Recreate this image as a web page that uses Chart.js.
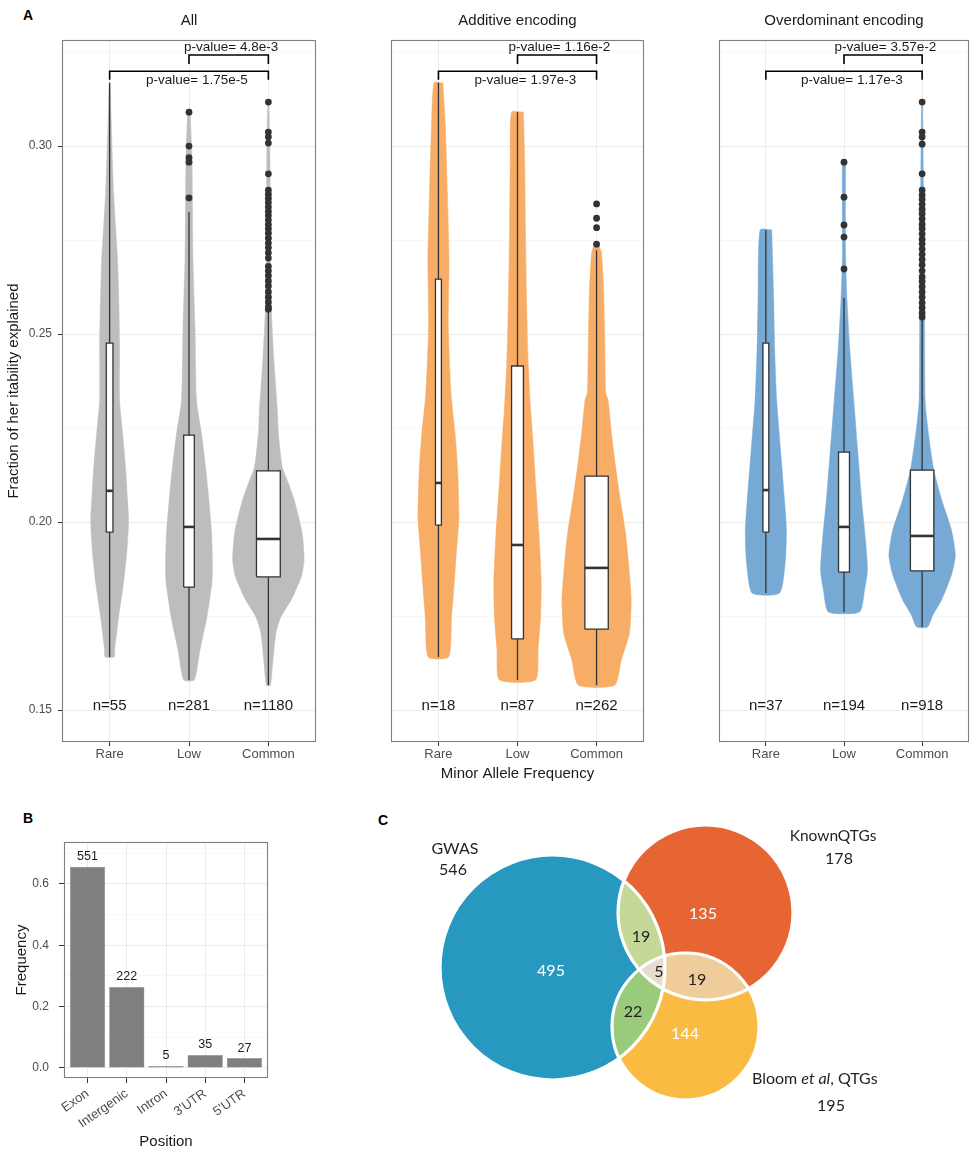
<!DOCTYPE html>
<html><head><meta charset="utf-8">
<script src="https://cdn.jsdelivr.net/npm/chart.js@4.4.1/dist/chart.umd.min.js"></script>
<style>
html,body{margin:0;padding:0;background:#fff;width:973px;height:1153px;overflow:hidden;position:relative;}
canvas{position:absolute;}
.lbl{position:absolute;font-family:'Liberation Sans',Arial,sans-serif;font-weight:bold;font-size:14px;line-height:14px;color:#000;}
</style></head><body>
<div class="lbl" style="left:23px;top:8px">A</div>
<div class="lbl" style="left:23px;top:811px">B</div>
<div class="lbl" style="left:378px;top:813px">C</div>
<canvas id="a1" width="320" height="800" style="left:0;top:0"></canvas>
<canvas id="a2" width="318" height="800" style="left:330px;top:0"></canvas>
<canvas id="a3" width="323" height="800" style="left:650px;top:0"></canvas>
<canvas id="b" width="290" height="343" style="left:0;top:810px"></canvas>
<canvas id="c" width="593" height="353" style="left:380px;top:800px"></canvas>
<script>
// ---------------- DATA ----------------
const CATS = ['Rare', 'Low', 'Common'];
const PANEL_TITLES = ['All', 'Additive encoding', 'Overdominant encoding'];
const Y_TICKS = [0.15, 0.175, 0.2, 0.225, 0.25, 0.275, 0.3, 0.325];
const Y_MAJOR = [0.15, 0.2, 0.25, 0.3];
const N_LABELS = [['n=55', 'n=281', 'n=1180'], ['n=18', 'n=87', 'n=262'], ['n=37', 'n=194', 'n=918']];
const P_UPPER = ['p-value= 4.8e-3', 'p-value= 1.16e-2', 'p-value= 3.57e-2']; // Low vs Common
const P_LOWER = ['p-value= 1.75e-5', 'p-value= 1.97e-3', 'p-value= 1.17e-3']; // Rare vs Common
const BRACKET_UPPER = [2, 3, 0.3242, 0.3218]; // from, to, y, tip
const BRACKET_LOWER = [1, 3, 0.3199, 0.3176];

// Violin profiles: y values and half-widths (in category units)
const ALL_RARE_Y = [0.3168, 0.3069, 0.2989, 0.2875, 0.2785, 0.2697, 0.2609, 0.2476, 0.2324, 0.2237, 0.2146, 0.2059, 0.2005, 0.1926, 0.1838, 0.1747, 0.1660, 0.1641];
const ALL_RARE_W = [0.006, 0.019, 0.031, 0.05, 0.075, 0.1, 0.113, 0.125, 0.125, 0.163, 0.2, 0.225, 0.238, 0.219, 0.175, 0.113, 0.063, 0.056];
const ALL_LOW_Y = [0.3096, 0.2963, 0.2830, 0.2697, 0.2519, 0.2324, 0.2237, 0.2146, 0.2059, 0.1971, 0.1880, 0.1838, 0.1747, 0.1660, 0.1580];
const ALL_LOW_W = [0.013, 0.038, 0.044, 0.05, 0.075, 0.094, 0.156, 0.209, 0.25, 0.284, 0.296, 0.288, 0.225, 0.138, 0.066];
const ALL_COMMON_Y = [0.3117, 0.2989, 0.2723, 0.2564, 0.2431, 0.2298, 0.2237, 0.2146, 0.2104, 0.2059, 0.1971, 0.1899, 0.1854, 0.1793, 0.1747, 0.1705, 0.1614, 0.1566];
const ALL_COMMON_W = [0.006, 0.019, 0.025, 0.038, 0.069, 0.113, 0.125, 0.175, 0.25, 0.325, 0.425, 0.45, 0.413, 0.288, 0.156, 0.094, 0.05, 0.025];

const ADD_RARE_Y = [0.3168, 0.3051, 0.2875, 0.2697, 0.2519, 0.2343, 0.2237, 0.2146, 0.2013, 0.1926, 0.1838, 0.1747, 0.1641];
const ADD_RARE_W = [0.056, 0.088, 0.113, 0.134, 0.125, 0.159, 0.209, 0.241, 0.259, 0.229, 0.2, 0.166, 0.129];
const ADD_LOW_Y = [0.3090, 0.2963, 0.2785, 0.2609, 0.2431, 0.2298, 0.2237, 0.2104, 0.1971, 0.1838, 0.1747, 0.1660, 0.1580];
const ADD_LOW_W = [0.075, 0.091, 0.1, 0.113, 0.134, 0.166, 0.188, 0.229, 0.271, 0.3, 0.291, 0.26, 0.229];
const ADD_COMMON_Y = [0.2739, 0.2715, 0.2609, 0.2476, 0.2343, 0.2324, 0.2237, 0.2146, 0.2059, 0.1971, 0.1880, 0.1793, 0.1705, 0.1633, 0.1566];
const ADD_COMMON_W = [0.025, 0.063, 0.091, 0.104, 0.116, 0.146, 0.188, 0.241, 0.3, 0.366, 0.409, 0.438, 0.416, 0.313, 0.229];

const OVD_RARE_Y = [0.2777, 0.2590, 0.2457, 0.2324, 0.2191, 0.2059, 0.1979, 0.1899, 0.1811];
const OVD_RARE_W = [0.075, 0.1, 0.113, 0.138, 0.188, 0.238, 0.263, 0.25, 0.175];
const OVD_LOW_Y = [0.2955, 0.2723, 0.2590, 0.2457, 0.2324, 0.2191, 0.2059, 0.1952, 0.1872, 0.1819, 0.1761];
const OVD_LOW_W = [0.019, 0.019, 0.038, 0.075, 0.125, 0.175, 0.225, 0.275, 0.3, 0.263, 0.2];
const OVD_COMMON_Y = [0.3117, 0.2856, 0.2537, 0.2324, 0.2245, 0.2138, 0.2059, 0.1979, 0.1912, 0.1859, 0.1793, 0.1753, 0.1721];
const OVD_COMMON_W = [0.006, 0.019, 0.031, 0.038, 0.075, 0.15, 0.25, 0.375, 0.425, 0.375, 0.25, 0.138, 0.069];

// Box stats: [lower whisker, Q1, median, Q3, upper whisker]
const ALL_BOX = [[0.1641, 0.1973, 0.2083, 0.2476, 0.3168], [0.1580, 0.1827, 0.1987, 0.2231, 0.2824], [0.1566, 0.1854, 0.1955, 0.2136, 0.2564]];
const ADD_BOX = [[0.1641, 0.1992, 0.2104, 0.2646, 0.3168], [0.1580, 0.1689, 0.1939, 0.2415, 0.3090], [0.1566, 0.1715, 0.1878, 0.2122, 0.2723]];
const OVD_BOX = [[0.1811, 0.1973, 0.2085, 0.2476, 0.2777], [0.1761, 0.1867, 0.1987, 0.2186, 0.2596], [0.1721, 0.1870, 0.1963, 0.2138, 0.2537]];
const ALL_BOXW = [0.084, 0.134, 0.3];
const ADD_BOXW = [0.075, 0.15, 0.296];
const OVD_BOXW = [0.075, 0.14, 0.3];

// Outliers
const ALL_OUT = [[], [0.3090, 0.3000, 0.2969, 0.2957, 0.2862],
  [0.3117, 0.3037, 0.3024, 0.3008, 0.2926, 0.2883, 0.2872, 0.2861, 0.2850, 0.2838, 0.2826, 0.2815, 0.2803, 0.2791, 0.2780, 0.2768, 0.2755, 0.2742, 0.2730, 0.2716, 0.2702, 0.2680, 0.2668, 0.2655, 0.2641, 0.2628, 0.2612, 0.2598, 0.2585, 0.2572, 0.2566]];
const ADD_OUT = [[], [], [0.2846, 0.2808, 0.2783, 0.2739]];
const OVD_OUT = [[], [0.2957, 0.2864, 0.2790, 0.2758, 0.2673],
  [0.3117, 0.3037, 0.3024, 0.3005, 0.2926, 0.2883, 0.2870, 0.2858, 0.2845, 0.2832, 0.2820, 0.2806, 0.2792, 0.2780, 0.2766, 0.2752, 0.2740, 0.2726, 0.2712, 0.2698, 0.2684, 0.2668, 0.2652, 0.2640, 0.2626, 0.2612, 0.2598, 0.2583, 0.2570, 0.2556, 0.2545]];

// Panel B
const POS_CATS = ['Exon', 'Intergenic', 'Intron', "3'UTR", "5'UTR"];
const POS_COUNTS = [551, 222, 5, 35, 27];
const POS_FREQ = [0.656, 0.264, 0.006, 0.042, 0.032];
const B_TICKS = [0, 0.1, 0.2, 0.3, 0.4, 0.5, 0.6, 0.7];
const B_MAJOR = [0, 0.2, 0.4, 0.6];

// Panel C (Venn)
const VENN_SETS = ['GWAS', 'KnownQTGs', 'Bloom et al, QTGs'];
const VENN_TOTALS = [546, 178, 195];
const VENN_CX = [17.25, 32.55, 30.55];
const VENN_CY = [16.75, 11.25, 22.65];
const VENN_R = [11.25, 8.75, 7.35];
const VENN_REGION_COUNTS = [495, 135, 144, 19, 22, 19, 5]; // G, K, B, G&K, G&B, K&B, all
const VENN_REGION_X = [17.1, 32.3, 30.5, 26.1, 25.3, 31.7, 27.9];
const VENN_REGION_Y = [17.1, 11.4, 23.4, 13.7, 21.2, 18.0, 17.2];
const VENN_LABEL_X = [7.5, 45.3, 37.2];
const VENN_LABEL_Y = [4.9, 3.6, 27.9];
const VENN_TOTAL_X = [7.3, 45.9, 45.1];
const VENN_TOTAL_Y = [7.0, 5.9, 30.6];

// ---------------- STYLE ----------------
const FONT = "'Liberation Sans', Arial, Helvetica, sans-serif";
const VFONT = "Lato, 'Open Sans', sans-serif";
const COLORS = ['#bdbdbd', '#f7ad66', '#76a9d3'];
const DARK = '#333333';
const isIn = (arr, v) => arr.some(m => Math.abs(m - v) < 1e-9);

function makeAnnot(id, texts, border) {
  return {
    id: id,
    afterDatasetsDraw(chart) {
      const {ctx, chartArea} = chart;
      const xs = chart.scales.x, ys = chart.scales.y;
      ctx.save();
      texts.forEach(t => {
        ctx.font = t.font;
        ctx.fillStyle = t.color || '#1a1a1a';
        ctx.textAlign = t.align || 'center';
        ctx.textBaseline = 'middle';
        const Y = (t.top !== undefined) ? chartArea.top + t.top : ys.getPixelForValue(t.y) + (t.dy || 0);
        ctx.fillText(t.text, xs.getPixelForValue(t.x) + (t.dx || 0), Y);
      });
      if (border) {
        ctx.strokeStyle = '#7f7f7f';
        ctx.lineWidth = 1.1;
        ctx.strokeRect(chartArea.left + 0.5, chartArea.top + 0.5, chartArea.right - chartArea.left - 1, chartArea.bottom - chartArea.top - 1);
      }
      ctx.restore();
    }
  };
}

function polygon(c, ys, ws) {
  const right = ys.map((y, i) => ({x: c + ws[i], y: y}));
  const left = ys.map((y, i) => ({x: c - ws[i], y: y})).reverse();
  const pts = right.concat(left);
  pts.push(pts[0]);
  return pts;
}

function panelA(canvasId, idx, violins, boxes, boxw, outliers, opt) {
  const color = COLORS[idx];
  const datasets = [];
  violins.forEach((v, i) => datasets.push({
    data: polygon(i + 1, v[0], v[1]), showLine: true, fill: 'shape', backgroundColor: color,
    borderColor: color, borderWidth: 0.5, pointRadius: 0, tension: 0.2, order: 10
  }));
  boxes.forEach((b, i) => {
    const c = i + 1, w = boxw[i] / 2;
    datasets.push({data: [{x: c, y: b[0]}, {x: c, y: b[4]}], showLine: true, borderColor: DARK, borderWidth: 1.3, pointRadius: 0, order: 8});
    datasets.push({data: [{x: c - w, y: b[1]}, {x: c + w, y: b[1]}, {x: c + w, y: b[3]}, {x: c - w, y: b[3]}, {x: c - w, y: b[1]}],
      showLine: true, fill: 'shape', backgroundColor: '#ffffff', borderColor: DARK, borderWidth: 1.3, pointRadius: 0, order: 6});
    datasets.push({data: [{x: c - w, y: b[2]}, {x: c + w, y: b[2]}], showLine: true, borderColor: DARK, borderWidth: 2.6, pointRadius: 0, order: 4});
  });
  outliers.forEach((o, i) => {
    if (o.length) datasets.push({data: o.map(y => ({x: i + 1, y: y})), showLine: false, pointRadius: 3.4,
      backgroundColor: DARK, borderWidth: 0, order: 2});
  });
  [BRACKET_UPPER, BRACKET_LOWER].forEach(br => datasets.push({
    data: [{x: br[0], y: br[3]}, {x: br[0], y: br[2]}, {x: br[1], y: br[2]}, {x: br[1], y: br[3]}],
    showLine: true, borderColor: '#000', borderWidth: 1.6, pointRadius: 0, order: 0
  }));

  const texts = [];
  texts.push({text: PANEL_TITLES[idx], x: 2, top: -19, font: '15px ' + FONT, color: '#1a1a1a'});
  N_LABELS[idx].forEach((t, i) => texts.push({text: t, x: i + 1, y: 0.1512, font: '15px ' + FONT, color: '#1a1a1a'}));
  texts.push({text: P_UPPER[idx], x: 2.53, y: 0.3263, font: '13.5px ' + FONT, color: '#1a1a1a'});
  texts.push({text: P_LOWER[idx], x: 2.1, y: 0.3176, font: '13.5px ' + FONT, color: '#1a1a1a'});

  new Chart(document.getElementById(canvasId), {
    type: 'scatter',
    data: {datasets: datasets},
    options: {
      responsive: false, animation: false, events: [],
      layout: {padding: {left: 0, right: opt.padRight, top: 40, bottom: 13}},
      plugins: {legend: {display: false}, tooltip: {enabled: false}, title: {display: false}},
      scales: {
        x: {
          type: 'linear', min: 0.4, max: 3.6,
          afterBuildTicks: s => { s.ticks = CATS.map((c, i) => ({value: i + 1})); },
          afterFit: s => { s.height = 45; },
          ticks: {callback: v => CATS[Math.round(v) - 1], color: '#4d4d4d', font: {family: FONT, size: 13}, padding: 1, maxRotation: 0, autoSkip: false},
          grid: {color: '#ebebeb', lineWidth: 1, tickLength: 4, tickColor: DARK, tickWidth: 1},
          border: {display: false},
          title: {display: opt.xTitle, text: 'Minor Allele Frequency', color: '#1a1a1a', font: {family: FONT, size: 15}, padding: {top: 0, bottom: 4}}
        },
        y: {
          type: 'linear', min: 0.1415, max: 0.3282,
          afterBuildTicks: s => { s.ticks = Y_TICKS.map(v => ({value: v})); },
          afterFit: s => { s.width = opt.yWidth; },
          ticks: {display: opt.yLabels, callback: v => isIn(Y_MAJOR, v) ? v.toFixed(2) : '', color: '#4d4d4d', font: {family: FONT, size: 12}, padding: 6, autoSkip: false},
          grid: {
            color: c => isIn(Y_MAJOR, c.tick.value) ? '#ebebeb' : '#f3f3f3',
            lineWidth: c => isIn(Y_MAJOR, c.tick.value) ? 1 : 0.7,
            drawTicks: opt.yLabels, tickLength: 4, tickWidth: 1,
            tickColor: c => isIn(Y_MAJOR, c.tick.value) ? DARK : 'rgba(0,0,0,0)'
          },
          border: {display: false},
          title: {display: opt.yLabels, text: 'Fraction of her itability explained', color: '#1a1a1a', font: {family: FONT, size: 15}, padding: {top: 5, bottom: 0}}
        }
      }
    },
    plugins: [makeAnnot('annot' + idx, texts, true)]
  });
}

panelA('a1', 0,
  [[ALL_RARE_Y, ALL_RARE_W], [ALL_LOW_Y, ALL_LOW_W], [ALL_COMMON_Y, ALL_COMMON_W]],
  ALL_BOX, ALL_BOXW, ALL_OUT, {padRight: 3, yWidth: 62, yLabels: true, xTitle: false});
panelA('a2', 1,
  [[ADD_RARE_Y, ADD_RARE_W], [ADD_LOW_Y, ADD_LOW_W], [ADD_COMMON_Y, ADD_COMMON_W]],
  ADD_BOX, ADD_BOXW, ADD_OUT, {padRight: 3, yWidth: 61, yLabels: false, xTitle: true});
panelA('a3', 2,
  [[OVD_RARE_Y, OVD_RARE_W], [OVD_LOW_Y, OVD_LOW_W], [OVD_COMMON_Y, OVD_COMMON_W]],
  OVD_BOX, OVD_BOXW, OVD_OUT, {padRight: 1, yWidth: 69, yLabels: false, xTitle: false});

// ---------------- PANEL B ----------------
const bTexts = POS_COUNTS.map((n, i) => ({text: String(n), x: i + 1, y: POS_FREQ[i], dy: -10, font: '12.5px ' + FONT, color: '#1a1a1a'}));
new Chart(document.getElementById('b'), {
  type: 'bar',
  data: {datasets: [{data: POS_FREQ.map((f, i) => ({x: i + 1, y: f})), backgroundColor: '#7f7f7f', borderColor: '#8c8c8c', borderWidth: 0.5, barPercentage: 0.9, categoryPercentage: 1}]},
  options: {
    responsive: false, animation: false, events: [],
    layout: {padding: {left: 0, right: 22, top: 32, bottom: 2}},
    plugins: {legend: {display: false}, tooltip: {enabled: false}},
    scales: {
      x: {
        type: 'linear', min: 0.4, max: 5.6, offset: false,
        afterBuildTicks: s => { s.ticks = POS_CATS.map((c, i) => ({value: i + 1})); },
        afterFit: s => { s.height = 73; },
        ticks: {callback: v => POS_CATS[Math.round(v) - 1], color: '#4d4d4d', font: {family: FONT, size: 13}, padding: 3, minRotation: 35, maxRotation: 35, autoSkip: false},
        grid: {offset: false, color: '#ebebeb', lineWidth: 1, tickLength: 5, tickColor: DARK, tickWidth: 1},
        border: {display: false},
        title: {display: true, text: 'Position', color: '#1a1a1a', font: {family: FONT, size: 15}, padding: {top: 0, bottom: 0}}
      },
      y: {
        type: 'linear', min: -0.033, max: 0.737,
        afterBuildTicks: s => { s.ticks = B_TICKS.map(v => ({value: v})); },
        afterFit: s => { s.width = 64; },
        ticks: {callback: v => isIn(B_MAJOR, v) ? v.toFixed(1) : '', color: '#4d4d4d', font: {family: FONT, size: 12}, padding: 10, autoSkip: false},
        grid: {
          color: c => isIn(B_MAJOR, c.tick.value) ? '#ebebeb' : '#f3f3f3',
          lineWidth: c => isIn(B_MAJOR, c.tick.value) ? 1 : 0.7,
          tickLength: 5, tickWidth: 1,
          tickColor: c => isIn(B_MAJOR, c.tick.value) ? DARK : 'rgba(0,0,0,0)'
        },
        border: {display: false},
        title: {display: true, text: 'Frequency', color: '#1a1a1a', font: {family: FONT, size: 15}, padding: {top: 13, bottom: 0}}
      }
    }
  },
  plugins: [makeAnnot('annotB', bTexts, true)]
});

// ---------------- PANEL C (Venn) ----------------
const vennPlugin = {
  id: 'venn',
  afterDatasetsDraw(chart) {
    const {ctx} = chart;
    const xs = chart.scales.x, ys = chart.scales.y;
    const P = i => ({x: xs.getPixelForValue(VENN_CX[i]), y: ys.getPixelForValue(VENN_CY[i]), r: Math.abs(xs.getPixelForValue(VENN_R[i]) - xs.getPixelForValue(0))});
    const circ = i => { const p = P(i); ctx.beginPath(); ctx.arc(p.x, p.y, p.r, 0, Math.PI * 2); };
    const setColors = ['#2799c0', '#e66532', '#f9bb41'];
    ctx.save();
    [0, 1, 2].forEach(i => { circ(i); ctx.fillStyle = setColors[i]; ctx.fill(); });
    const pairs = [[0, 1, '#c4d898'], [0, 2, '#9acb7a'], [1, 2, '#f0cc9b']];
    pairs.forEach(p => { ctx.save(); circ(p[0]); ctx.clip(); circ(p[1]); ctx.fillStyle = p[2]; ctx.fill(); ctx.restore(); });
    ctx.save(); circ(0); ctx.clip(); circ(1); ctx.clip(); circ(2); ctx.fillStyle = '#e7dccd'; ctx.fill(); ctx.restore();
    [0, 1, 2].forEach(i => { circ(i); ctx.strokeStyle = '#ffffff'; ctx.lineWidth = 3.2; ctx.stroke(); });
    ctx.textAlign = 'center'; ctx.textBaseline = 'middle';
    ctx.font = '16px ' + VFONT;
    VENN_REGION_COUNTS.forEach((n, i) => {
      ctx.fillStyle = i < 3 ? '#ffffff' : '#231f20';
      ctx.fillText(String(n), xs.getPixelForValue(VENN_REGION_X[i]), ys.getPixelForValue(VENN_REGION_Y[i]));
    });
    ctx.fillStyle = '#231f20';
    ctx.font = '16px ' + VFONT;
    ctx.fillText(VENN_SETS[0], xs.getPixelForValue(VENN_LABEL_X[0]), ys.getPixelForValue(VENN_LABEL_Y[0]));
    ctx.font = '15.5px ' + VFONT;
    ctx.fillText(VENN_SETS[1], xs.getPixelForValue(VENN_LABEL_X[1]), ys.getPixelForValue(VENN_LABEL_Y[1]));
    let bx = xs.getPixelForValue(VENN_LABEL_X[2]);
    const by = ys.getPixelForValue(VENN_LABEL_Y[2]);
    ctx.textAlign = 'left';
    const parts = [['Bloom ', 'normal'], ['et al', 'italic'], [', QTGs', 'normal']];
    parts.forEach(pt => {
      ctx.font = pt[1] + ' 16px ' + VFONT;
      ctx.fillText(pt[0], bx, by);
      bx += ctx.measureText(pt[0]).width;
    });
    ctx.textAlign = 'center';
    ctx.font = '16px ' + VFONT;
    VENN_TOTALS.forEach((n, i) => ctx.fillText(String(n), xs.getPixelForValue(VENN_TOTAL_X[i]), ys.getPixelForValue(VENN_TOTAL_Y[i])));
    ctx.restore();
  }
};
new Chart(document.getElementById('c'), {
  type: 'scatter',
  data: {datasets: [{data: VENN_CX.map((x, i) => ({x: x, y: VENN_CY[i]})), pointRadius: 0}]},
  options: {
    responsive: false, animation: false, events: [],
    layout: {padding: 0},
    plugins: {legend: {display: false}, tooltip: {enabled: false}},
    scales: {
      x: {type: 'linear', min: 0, max: 59.3, display: false},
      y: {type: 'linear', min: 0, max: 35.3, reverse: true, display: false}
    }
  },
  plugins: [vennPlugin]
});
</script>
</body></html>
